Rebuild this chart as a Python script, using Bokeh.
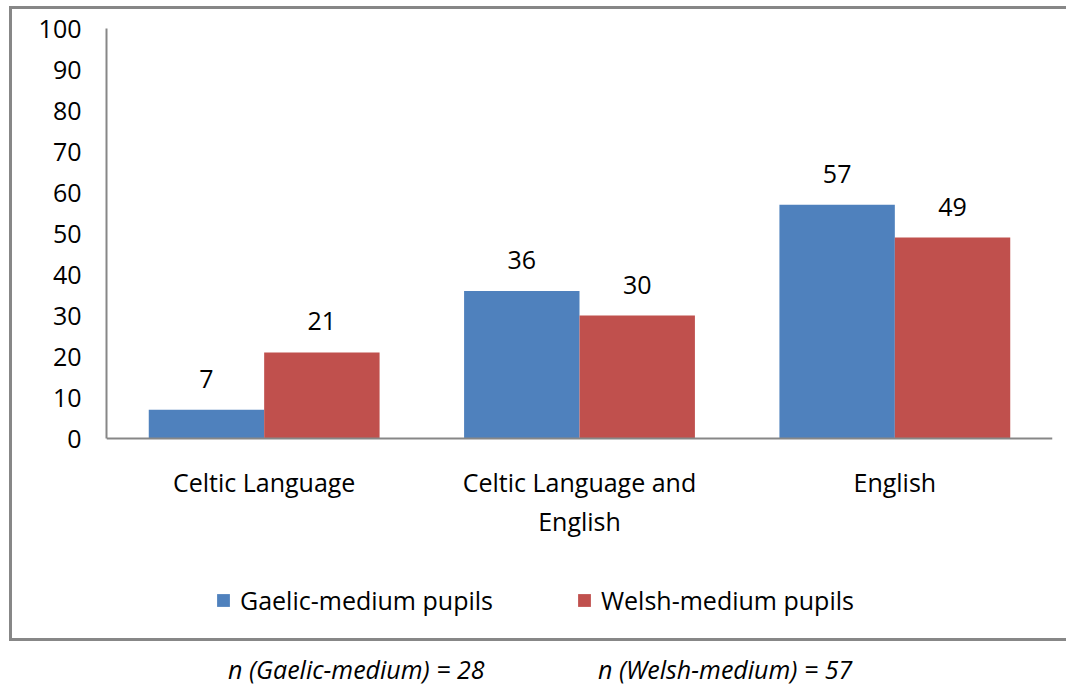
from bokeh.plotting import figure
from bokeh.models import (ColumnDataSource, FactorRange, Range1d, FixedTicker,
                          Legend, LegendItem, Div, Span)
from bokeh.layouts import column
from bokeh.transform import dodge
from bokeh.core.properties import value
from bokeh.embed import file_html
from bokeh.resources import INLINE

# ---- data ----
categories = ["Celtic Language", "Celtic Language and\nEnglish", "English"]
gaelic = [7, 36, 57]
welsh = [21, 30, 49]
series_names = ["Gaelic-medium pupils", "Welsh-medium pupils"]
y_ticks = [0, 10, 20, 30, 40, 50, 60, 70, 80, 90, 100]
footer_left = "n (Gaelic-medium) = 28"
footer_right = "n (Welsh-medium) = 57"

FONT = "Open Sans"
FS = "25px"
BLUE = "#4F81BD"
RED = "#C0504D"
GREY = "#878787"

# ---- geometry (pixels) ----
W, H = 1057, 635
TOP, BOTTOM_BORDER = 19, 14
PLOT_H = 410                      # pixels from value 0 to value 100
frame_h = H - TOP - BOTTOM_BORDER
y_lo = -(frame_h - PLOT_H) * 100.0 / PLOT_H   # room under the axis for labels/legend

src = ColumnDataSource(dict(
    cat=categories,
    gaelic=gaelic,
    welsh=welsh,
    gaelic_txt=[str(v) for v in gaelic],
    welsh_txt=[str(v) for v in welsh],
    base=[0] * len(categories),
))

p = figure(x_range=FactorRange(*categories), y_range=Range1d(y_lo, 100),
           width=W, height=H, output_backend="svg", toolbar_location=None,
           min_border_left=94, min_border_right=17, min_border_top=TOP,
           min_border_bottom=BOTTOM_BORDER,
           styles={"border-left": f"3px solid {GREY}",
                   "border-top": f"3px solid {GREY}",
                   "border-bottom": f"3px solid {GREY}"})
p.outline_line_color = None
p.xgrid.visible = False
p.ygrid.visible = False
p.background_fill_alpha = 0
p.border_fill_alpha = 0

off = 0.183
bw = 0.366
r1 = p.vbar(x=dodge("cat", -off, range=p.x_range), top="gaelic", width=bw,
            source=src, fill_color=BLUE, line_color=None)
r2 = p.vbar(x=dodge("cat", off, range=p.x_range), top="welsh", width=bw,
            source=src, fill_color=RED, line_color=None)

for xcol, ycol, tcol in ((-off, "gaelic", "gaelic_txt"), (off, "welsh", "welsh_txt")):
    p.text(x=dodge("cat", xcol, range=p.x_range), y=ycol, text=tcol,
           source=src, text_align="center", text_baseline="alphabetic",
           y_offset=-31, text_font=value(FONT), text_font_size=FS,
           text_color="black")

# category labels under the axis line
p.text(x="cat", y="base", text="cat", source=src, text_align="center",
       text_baseline="top", y_offset=26, text_font=value(FONT),
       text_font_size=FS, text_color="black", text_line_height=1.15)

# category axis line at value 0
p.xaxis.visible = False
p.add_layout(Span(location=0, dimension="width", line_color=GREY, line_width=2))

# value axis
yax = p.yaxis[0]
yax.ticker = FixedTicker(ticks=y_ticks)
yax.bounds = (0, 100)
yax.axis_line_color = GREY
yax.axis_line_width = 2
yax.major_tick_line_color = None
yax.minor_tick_line_color = None
yax.major_tick_out = 0
yax.major_tick_in = 0
yax.major_label_text_font = FONT
yax.major_label_text_font_size = FS
yax.major_label_text_color = "black"
yax.major_label_standoff = 25

# legend inside the (extended) frame, below the axis
lg = Legend(items=[LegendItem(label=series_names[0], renderers=[r1]),
                   LegendItem(label=series_names[1], renderers=[r2])],
            location=(109, 13), orientation="horizontal",
            glyph_width=16, glyph_height=16, label_standoff=9,
            label_width=336, padding=0, margin=0, spacing=0,
            border_line_color=None, background_fill_alpha=0,
            label_text_font=FONT, label_text_font_size=FS,
            label_text_color="black")
p.add_layout(lg)

footer = Div(
    text=(f'<div style="font-family:\'{FONT}\';font-style:italic;font-size:{FS};'
          f'white-space:nowrap;padding-left:214px;padding-top:6px;color:black">'
          f'<span style="display:inline-block;width:370px">{footer_left}</span>'
          f'<span>{footer_right}</span></div>'),
    width=W, height=46)

layout = column(p, footer, spacing=0,
                styles={"margin-left": "9px", "margin-top": "6px"})

open("out.html", "w").write(file_html(layout, INLINE))
